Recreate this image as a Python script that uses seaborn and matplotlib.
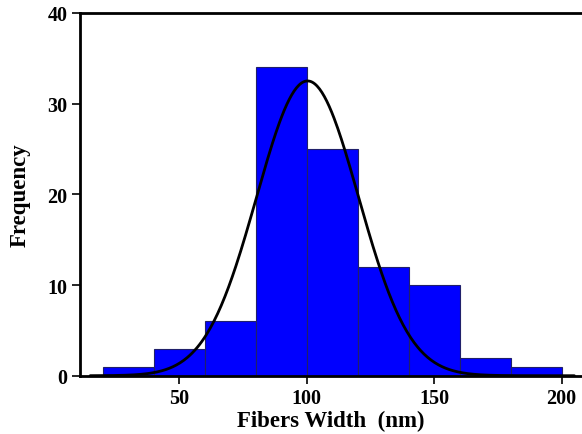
import numpy as np
import pandas as pd
import matplotlib
matplotlib.use("Agg")
import matplotlib.pyplot as plt
import seaborn as sns

# Data
bin_edges = [20, 40, 60, 80, 100, 120, 140, 160, 180, 200]
bin_centers = [30, 50, 70, 90, 110, 130, 150, 170, 190]
counts = [1, 3, 6, 34, 25, 12, 10, 2, 1]

# Fitted normal curve parameters
fit_mean = 100.3
fit_sd = 20.0
fit_peak = 32.5

sns.set_style("white")
plt.rcParams['font.family'] = ['Liberation Serif', 'DejaVu Serif']
plt.rcParams['text.color'] = 'black'
plt.rcParams['axes.labelcolor'] = 'black'
plt.rcParams['xtick.color'] = 'black'
plt.rcParams['ytick.color'] = 'black'

fig = plt.figure(figsize=(5.82, 4.35), dpi=100)
ax = fig.add_axes([0.1375, 0.134, 0.8625, 0.834])

df = pd.DataFrame({"width": bin_centers, "count": counts})
sns.histplot(data=df, x="width", weights="count", bins=bin_edges,
             color="#0000FF", edgecolor="#20206a", linewidth=0.8,
             alpha=1.0, ax=ax)

xs = np.linspace(15, 205, 400)
ys = fit_peak * np.exp(-0.5 * ((xs - fit_mean) / fit_sd) ** 2)
sns.lineplot(x=xs, y=ys, color="black", linewidth=2.0, ax=ax)

ax.set_xlim(11, 208)
ax.set_ylim(0, 40)
ax.set_xticks([50, 100, 150, 200])
ax.set_yticks([0, 10, 20, 30, 40])
ax.set_xlabel("Fibers Width  (nm)", fontsize=16.5, fontweight="bold",
              labelpad=1, color="black")
ax.set_ylabel("Frequency", fontsize=16.5, fontweight="bold",
              labelpad=12, color="black")
for lab in ax.get_xticklabels() + ax.get_yticklabels():
    lab.set_fontweight("bold")
    lab.set_color("black")
ax.tick_params(axis="both", labelsize=14.5, direction="out", length=6,
               width=1.2, color="black", labelcolor="black",
               bottom=True, left=True, pad=3)
for side in ["left", "bottom", "top"]:
    ax.spines[side].set_visible(True)
    ax.spines[side].set_color("black")
    ax.spines[side].set_linewidth(2.0)
ax.spines["right"].set_visible(False)

fig.savefig("out.png", dpi=100)
